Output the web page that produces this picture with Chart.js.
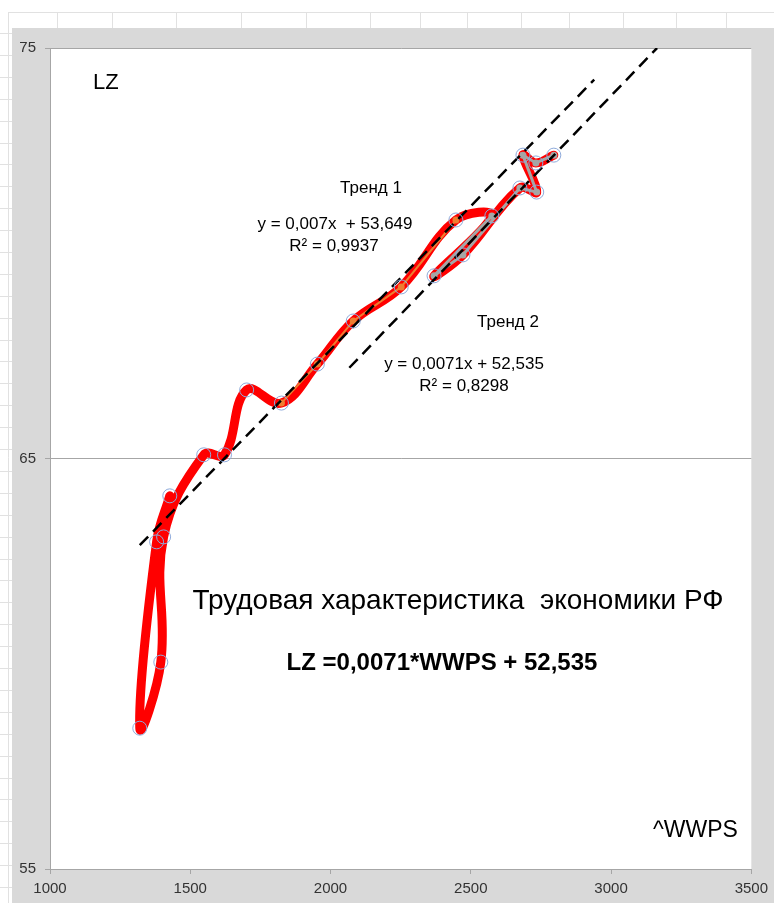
<!DOCTYPE html>
<html>
<head>
<meta charset="utf-8">
<script src="https://cdn.jsdelivr.net/npm/chart.js@4.4.1/dist/chart.umd.min.js"></script>
<style>
  html, body { margin: 0; padding: 0; background: #fff; }
  canvas { display: block; }
</style>
</head>
<body>
<canvas id="lzChart" width="774" height="903"></canvas>
<script>
// LZ against WWPS, points in chronological order
const wwps = [1427, 1380, 1320, 1395, 1405, 1548, 1622, 1701, 1825, 1953, 2081,
              2252, 2447, 2575, 2369, 2472, 2675, 2735, 2686, 2732, 2796];
const lz = [64.09, 62.97, 58.43, 60.04, 63.09, 65.09, 65.09, 66.67, 66.35, 67.30, 68.35,
            69.18, 70.81, 70.91, 69.45, 69.96, 71.59, 71.49, 72.39, 72.20, 72.39];

// points fitted by Тренд 1 and by Тренд 2
const period1 = [8, 13];
const period2 = [13, 21];

// trend lines as shown in the chart: y = a*x + b
const trendSlope = [0.007, 0.0071];
const trendIntercept = [53.649, 52.535];
const trendFrom = [1320, 2067];
const trendTo = [2940, 3164];

const xTicks = [1000, 1500, 2000, 2500, 3000, 3500];
const yTicks = [55, 65, 75];

const pts = (a, b) => wwps.slice(a, b).map((x, i) => ({ x: x, y: lz[a + i] }));
const trend = i => [trendFrom[i], trendTo[i]].map(x => ({ x: x, y: trendSlope[i] * x + trendIntercept[i] }));

const FONT = '"Liberation Sans", Arial, sans-serif';

const notes = [
  { text: 'LZ', x: 93, y: 83, size: 22, align: 'left' },
  { text: 'Тренд 1', x: 371, y: 188, size: 17 },
  { text: 'y = 0,007x  + 53,649', x: 335, y: 224, size: 17 },
  { text: 'R² = 0,9937', x: 334, y: 246, size: 17 },
  { text: 'Тренд 2', x: 508, y: 322, size: 17 },
  { text: 'y = 0,0071x + 52,535', x: 464, y: 364, size: 17 },
  { text: 'R² = 0,8298', x: 464, y: 386, size: 17 },
  { text: 'Трудовая характеристика  экономики РФ', x: 458, y: 601, size: 28 },
  { text: 'LZ =0,0071*WWPS + 52,535', x: 442, y: 663, size: 24, bold: true },
  { text: '^WWPS', x: 653, y: 831, size: 23, align: 'left' }
];

// excel sheet behind the chart object, grey chart area, white plot area
const sheetBg = {
  id: 'sheetBg',
  beforeDraw(chart) {
    const ctx = chart.ctx, a = chart.chartArea;
    ctx.save();
    ctx.fillStyle = '#fff';
    ctx.fillRect(0, 0, chart.width, chart.height);
    ctx.strokeStyle = '#e1e1e1';
    ctx.lineWidth = 1;
    ctx.beginPath();
    ctx.moveTo(8, 12.5); ctx.lineTo(chart.width, 12.5);
    ctx.moveTo(8.5, 12); ctx.lineTo(8.5, chart.height);
    [57, 112, 176, 241, 306, 370, 420, 467, 521, 569, 623, 676, 726].forEach(x => {
      ctx.moveTo(x + 0.5, 12); ctx.lineTo(x + 0.5, 28);
    });
    for (let y = 33; y < chart.height; y += 21.9) {
      ctx.moveTo(0, Math.round(y) + 0.5); ctx.lineTo(12, Math.round(y) + 0.5);
    }
    ctx.stroke();
    ctx.fillStyle = '#d9d9d9';
    ctx.fillRect(12, 28, chart.width - 12, chart.height - 28);
    ctx.fillStyle = '#fff';
    ctx.fillRect(a.left, a.top, a.right - a.left, a.bottom - a.top);
    ctx.restore();
  }
};

const textNotes = {
  id: 'textNotes',
  afterDraw(chart) {
    const ctx = chart.ctx;
    ctx.save();
    ctx.fillStyle = '#000';
    ctx.textBaseline = 'middle';
    notes.forEach(n => {
      ctx.font = (n.bold ? 'bold ' : '') + n.size + 'px ' + FONT;
      ctx.textAlign = n.align || 'center';
      ctx.fillText(n.text, n.x, n.y);
    });
    ctx.restore();
  }
};

new Chart(document.getElementById('lzChart'), {
  type: 'line',
  data: {
    datasets: [
      {
        // hollow markers on every point
        data: pts(0, wwps.length),
        showLine: false,
        pointRadius: 7,
        pointBorderWidth: 1,
        pointBorderColor: '#8eaadb',
        pointBackgroundColor: 'rgba(0,0,0,0)',
        order: 1
      },
      {
        data: trend(0),
        borderColor: '#000',
        borderWidth: 2.5,
        borderDash: [12, 7],
        pointRadius: 0,
        order: 2
      },
      {
        data: trend(1),
        borderColor: '#000',
        borderWidth: 2.5,
        borderDash: [12, 7],
        pointRadius: 0,
        order: 2
      },
      {
        data: pts(period2[0], period2[1]),
        borderColor: '#a5a5a5',
        borderWidth: 3,
        pointRadius: 3.5,
        pointBorderWidth: 0,
        pointBackgroundColor: '#a5a5a5',
        order: 3
      },
      {
        data: pts(period1[0], period1[1]),
        borderColor: '#ed7d31',
        borderWidth: 2,
        pointRadius: 3.5,
        pointBorderWidth: 0,
        pointBackgroundColor: '#ed7d31',
        order: 3
      },
      {
        // thick smoothed path
        data: pts(0, wwps.length),
        borderColor: '#ff0000',
        borderWidth: 9,
        tension: 0.4,
        borderCapStyle: 'round',
        borderJoinStyle: 'round',
        pointRadius: 0,
        order: 4
      }
    ]
  },
  options: {
    responsive: false,
    animation: false,
    events: [],
    layout: { padding: { left: 12, top: 48, right: 21, bottom: 0 } },
    plugins: { legend: { display: false }, tooltip: { enabled: false } },
    scales: {
      x: {
        type: 'linear',
        min: xTicks[0],
        max: xTicks[xTicks.length - 1],
        afterBuildTicks: s => { s.ticks = xTicks.map(v => ({ value: v })); },
        afterFit: s => { s.height = 34; },
        grid: { drawOnChartArea: false, drawTicks: true, tickLength: 5, color: '#a6a6a6' },
        border: { display: true, color: '#a6a6a6' },
        ticks: { padding: 6, color: '#333', font: { family: FONT, size: 15 }, callback: v => String(v), maxRotation: 0 }
      },
      y: {
        type: 'linear',
        min: yTicks[0],
        max: yTicks[yTicks.length - 1],
        afterBuildTicks: s => { s.ticks = yTicks.map(v => ({ value: v })); },
        afterFit: s => { s.width = 38; },
        grid: { drawTicks: true, tickLength: 5, color: '#a6a6a6' },
        border: { display: true, color: '#a6a6a6' },
        ticks: { padding: 9, color: '#333', font: { family: FONT, size: 15 }, callback: v => String(v) }
      }
    }
  },
  plugins: [sheetBg, textNotes]
});
</script>
</body>
</html>
